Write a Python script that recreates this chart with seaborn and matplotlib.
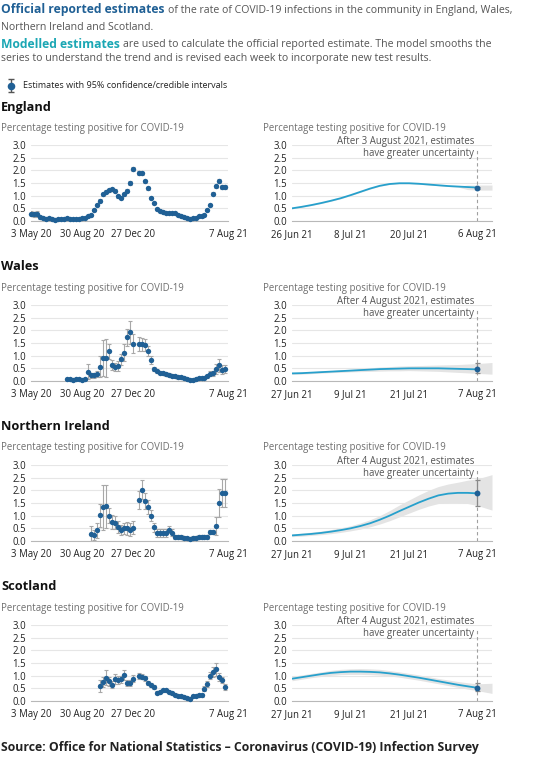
import matplotlib
matplotlib.use("Agg")
import matplotlib.pyplot as plt
import numpy as np
import pandas as pd
import seaborn as sns

sns.set_style("white")
plt.rcParams["font.family"] = ["Open Sans", "DejaVu Sans"]

W, H = 547, 760

DARK_BLUE = "#206095"
LINE_BLUE = "#27a0cc"
TEAL = "#1ba7b4"
ERR_GREY = "#a8a8a8"
BAND = "#e4e4e4"
GRID = "#e6e6e6"
AXIS = "#b8b8b8"
SUB_GREY = "#6f6f6f"
TEXT = "#222222"

nations = ["England", "Wales", "Northern Ireland", "Scotland"]

# --- official reported estimates (weekly) ---
survey_ticks = ["2020-05-03", "2020-08-30", "2020-12-27", "2021-08-07"]
survey_tick_labels = ["3 May 20", "30 Aug 20", "27 Dec 20", "7 Aug 21"]

england_start = "2020-05-03"
england_vals = [0.28, 0.27, 0.26, 0.14, 0.10, 0.09, 0.12, 0.08, 0.05, 0.06,
                0.08, 0.09, 0.10, 0.09, 0.08, 0.09, 0.09, 0.10, 0.12, 0.18,
                0.24, 0.43, 0.63, 0.80, 1.05, 1.15, 1.22, 1.25, 1.20, 0.97,
                0.90, 1.05, 1.20, 1.50, 2.07, np.nan, 1.90, 1.88, 1.57, 1.30,
                0.90, 0.70, 0.48, 0.40, 0.35, 0.33, 0.32, 0.30, 0.30, 0.25,
                0.20, 0.14, 0.10, 0.09, 0.10, 0.12, 0.18, 0.20, 0.24, 0.42,
                0.63, 1.08, 1.37, 1.57, 1.35, 1.35]
england_err = [0.10, 0.10, 0.12, 0.05, 0.03, 0.03, 0.03, 0.02, 0.02, 0.02,
               0.02, 0.02, 0.02, 0.02, 0.02, 0.02, 0.02, 0.02, 0.02, 0.03,
               0.03, 0.04, 0.05, 0.05, 0.06, 0.06, 0.06, 0.06, 0.06, 0.05,
               0.05, 0.05, 0.06, 0.07, 0.08, np.nan, 0.07, 0.07, 0.06, 0.06,
               0.05, 0.04, 0.03, 0.03, 0.03, 0.03, 0.03, 0.03, 0.03, 0.02,
               0.02, 0.02, 0.02, 0.02, 0.02, 0.02, 0.02, 0.02, 0.03, 0.04,
               0.05, 0.06, 0.07, 0.08, 0.08, 0.08]

wales_start = "2020-07-26"
wales_vals = [0.06, 0.06, 0.05, 0.06, 0.06, 0.05, 0.07, 0.37, 0.22, 0.22,
              0.27, 0.57, 0.90, 0.92, 1.18, 0.62, 0.55, 0.60, 0.85, 1.12,
              1.72, 1.93, 1.47, np.nan, 1.47, 1.45, 1.42, 1.18, 0.82, 0.48,
              0.38, 0.33, 0.30, 0.27, 0.25, 0.20, 0.18, 0.15, 0.15, 0.10,
              0.08, 0.05, 0.05, 0.06, 0.10, 0.12, 0.10, 0.18, 0.28, 0.30,
              0.48, 0.62, 0.45, 0.47]
wales_err = [0.03, 0.03, 0.03, 0.03, 0.03, 0.03, 0.03, 0.30, 0.10, 0.10,
             0.12, 0.40, 0.70, 0.75, 0.30, 0.20, 0.17, 0.20, 0.20, 0.35,
             0.35, 0.45, 0.38, np.nan, 0.28, 0.25, 0.25, 0.20, 0.15, 0.08,
             0.06, 0.06, 0.06, 0.06, 0.06, 0.06, 0.06, 0.06, 0.06, 0.04,
             0.04, 0.04, 0.04, 0.04, 0.04, 0.04, 0.04, 0.06, 0.10, 0.10,
             0.20, 0.25, 0.18, 0.17]

ni_start = "2020-09-20"
ni_vals = [0.28, 0.25, 0.42, 1.02, 1.33, 1.37, 1.00, 0.75, 0.72, 0.55,
           0.45, 0.50, 0.50, 0.45, 0.52, np.nan, 1.62, 2.02, 1.58, 1.35,
           1.00, 0.55, 0.32, 0.32, 0.32, 0.32, 0.45, 0.33, 0.15, 0.15,
           0.15, 0.12, 0.10, 0.08, 0.12, 0.13, 0.15, 0.16, 0.17, 0.15,
           0.35, 0.35, 0.60, 1.50, 1.88, 1.90]
ni_err = [0.30, 0.20, 0.30, 0.45, 0.90, 0.85, 0.30, 0.28, 0.25, 0.22,
          0.20, 0.22, 0.25, 0.25, 0.25, np.nan, 0.35, 0.38, 0.30, 0.28,
          0.22, 0.18, 0.15, 0.15, 0.15, 0.15, 0.15, 0.15, 0.07, 0.07,
          0.07, 0.07, 0.07, 0.07, 0.07, 0.07, 0.07, 0.07, 0.07, 0.07,
          0.07, 0.07, 0.35, 0.55, 0.55, 0.55]

scotland_start = "2020-10-11"
scotland_vals = [0.58, 0.75, 0.92, 0.78, 0.65, 0.88, 0.82, 0.85, 1.02, 0.72,
                 0.70, 0.88, np.nan, 1.00, 0.95, 0.90, 0.70, 0.63, 0.55, 0.33,
                 0.35, 0.42, 0.42, 0.35, 0.30, 0.25, 0.20, 0.18, 0.15, 0.12,
                 0.07, 0.20, 0.20, 0.22, 0.22, 0.48, 0.68, 1.00, 1.15, 1.25,
                 0.95, 0.82, 0.55]
scotland_err = [0.23, 0.20, 0.30, 0.18, 0.15, 0.20, 0.15, 0.15, 0.20, 0.12,
                0.12, 0.13, np.nan, 0.12, 0.10, 0.10, 0.08, 0.08, 0.07, 0.05,
                0.05, 0.05, 0.05, 0.05, 0.05, 0.05, 0.05, 0.05, 0.05, 0.05,
                0.05, 0.05, 0.05, 0.05, 0.05, 0.10, 0.12, 0.15, 0.20, 0.25,
                0.15, 0.12, 0.12]

# --- modelled estimates (days from start of model window) ---
model_days = [0, 2, 4, 6, 8, 10, 12, 14, 16, 18, 20, 22, 24, 26, 28, 30, 32, 34, 36, 38]
band_end_day = 41
model_tick_days = [0, 12, 24, 38]
england_model_labels = ["26 Jun 21", "8 Jul 21", "20 Jul 21", "6 Aug 21"]
other_model_labels = ["27 Jun 21", "9 Jul 21", "21 Jul 21", "7 Aug 21"]
england_note = "After 3 August 2021, estimates\nhave greater uncertainty"
other_note = "After 4 August 2021, estimates\nhave greater uncertainty"

england_model = [0.50, 0.56, 0.63, 0.71, 0.80, 0.90, 1.02, 1.15, 1.28, 1.39,
                 1.46, 1.49, 1.49, 1.47, 1.44, 1.41, 1.38, 1.36, 1.34, 1.32]
england_lo = [0.48, 0.54, 0.61, 0.69, 0.78, 0.88, 1.00, 1.13, 1.26, 1.37,
              1.44, 1.47, 1.47, 1.45, 1.42, 1.39, 1.36, 1.34, 1.24, 1.22, 1.22]
england_hi = [0.52, 0.58, 0.65, 0.73, 0.82, 0.92, 1.04, 1.17, 1.30, 1.41,
              1.48, 1.51, 1.51, 1.49, 1.46, 1.43, 1.40, 1.38, 1.42, 1.42, 1.42]

wales_model = [0.30, 0.31, 0.33, 0.35, 0.37, 0.39, 0.41, 0.43, 0.45, 0.47,
               0.48, 0.49, 0.50, 0.50, 0.50, 0.50, 0.49, 0.48, 0.47, 0.46]
wales_lo = [0.26, 0.27, 0.29, 0.31, 0.33, 0.34, 0.36, 0.37, 0.38, 0.39,
            0.40, 0.40, 0.41, 0.40, 0.39, 0.38, 0.36, 0.34, 0.32, 0.30, 0.27]
wales_hi = [0.34, 0.35, 0.37, 0.39, 0.41, 0.44, 0.46, 0.49, 0.52, 0.55,
            0.57, 0.59, 0.60, 0.61, 0.62, 0.63, 0.64, 0.65, 0.67, 0.69, 0.73]

ni_model = [0.22, 0.25, 0.28, 0.32, 0.37, 0.43, 0.50, 0.59, 0.70, 0.84,
            1.00, 1.18, 1.35, 1.52, 1.67, 1.80, 1.87, 1.90, 1.90, 1.88]
ni_lo = [0.17, 0.19, 0.22, 0.25, 0.29, 0.34, 0.40, 0.47, 0.56, 0.67,
         0.80, 0.95, 1.10, 1.25, 1.38, 1.48, 1.52, 1.52, 1.48, 1.40, 1.22]
ni_hi = [0.28, 0.31, 0.35, 0.39, 0.45, 0.52, 0.60, 0.71, 0.84, 1.00,
         1.20, 1.42, 1.62, 1.82, 2.00, 2.15, 2.25, 2.32, 2.40, 2.45, 2.62]

scotland_model = [0.88, 0.94, 1.00, 1.06, 1.11, 1.14, 1.16, 1.16, 1.15, 1.13,
                  1.09, 1.04, 0.98, 0.92, 0.85, 0.78, 0.71, 0.64, 0.58, 0.52]
scotland_lo = [0.80, 0.86, 0.92, 0.97, 1.01, 1.04, 1.05, 1.05, 1.04, 1.02,
               0.99, 0.94, 0.88, 0.82, 0.75, 0.68, 0.61, 0.54, 0.47, 0.41, 0.30]
scotland_hi = [0.97, 1.03, 1.09, 1.15, 1.21, 1.25, 1.27, 1.28, 1.27, 1.25,
               1.20, 1.15, 1.09, 1.03, 0.96, 0.89, 0.83, 0.77, 0.72, 0.68, 0.70]

# latest official estimate with interval (shown on the modelled panel)
latest_val = [1.31, 0.46, 1.88, 0.52]
latest_lo = [1.27, 0.30, 1.40, 0.38]
latest_hi = [1.36, 0.72, 2.42, 0.72]

survey = [
    (england_start, england_vals, england_err),
    (wales_start, wales_vals, wales_err),
    (ni_start, ni_vals, ni_err),
    (scotland_start, scotland_vals, scotland_err),
]
model = [
    (england_model, england_lo, england_hi, england_model_labels, england_note),
    (wales_model, wales_lo, wales_hi, other_model_labels, other_note),
    (ni_model, ni_lo, ni_hi, other_model_labels, other_note),
    (scotland_model, scotland_lo, scotland_hi, other_model_labels, other_note),
]

fig = plt.figure(figsize=(W / 100, H / 100), dpi=100)


def fx(px):
    return px / W


def fy(py):
    return 1 - py / H


def text_runs(y_px, runs):
    renderer = fig.canvas.get_renderer()
    x = 1
    for s, color, weight, size in runs:
        t = fig.text(fx(x), fy(y_px), s, color=color, fontweight=weight,
                     fontsize=size, va="center", ha="left")
        x += t.get_window_extent(renderer).width + 3.5


def style_axis(ax):
    ax.set_ylim(0, 3)
    ax.set_yticks([0, 0.5, 1, 1.5, 2, 2.5, 3])
    ax.set_yticklabels(["0.0", "0.5", "1.0", "1.5", "2.0", "2.5", "3.0"])
    ax.yaxis.grid(True, color=GRID, lw=0.8)
    ax.xaxis.grid(False)
    ax.set_axisbelow(True)
    for s in ["top", "right", "left"]:
        ax.spines[s].set_visible(False)
    ax.spines["bottom"].set_color(AXIS)
    ax.spines["bottom"].set_linewidth(0.8)
    ax.tick_params(axis="y", length=2.5, width=0.7, color=AXIS, labelsize=6.9,
                   labelcolor=TEXT, pad=1)
    ax.tick_params(axis="x", length=3.5, width=0.7, color=AXIS, labelsize=6.9,
                   labelcolor=TEXT, pad=2)
    ax.set_xlabel("")
    ax.set_ylabel("")


def plot_survey(ax, start, vals, errs):
    df = pd.DataFrame({"date": pd.date_range(start, periods=len(vals), freq="7D"),
                       "value": vals, "err": errs}).dropna()
    ax.errorbar(df["date"], df["value"], yerr=df["err"], fmt="none",
                ecolor=ERR_GREY, elinewidth=0.8, capsize=1.6, capthick=0.8, zorder=2)
    sns.scatterplot(data=df, x="date", y="value", ax=ax, color=DARK_BLUE, s=15,
                    linewidth=0, zorder=3, clip_on=False)
    ticks = pd.to_datetime(survey_ticks)
    ax.set_xlim(ticks[0], ticks[-1])
    ax.set_xticks(ticks)
    ax.set_xticklabels(survey_tick_labels)
    style_axis(ax)


def plot_model(ax, i, vals, lo, hi, labels, note):
    ax.fill_between(model_days + [band_end_day], lo, hi, color=BAND, lw=0, zorder=1)
    sns.lineplot(x=model_days, y=vals, ax=ax, color=LINE_BLUE, lw=1.3, zorder=2)
    last = model_days[-1]
    ax.axvline(last, ymin=0, ymax=0.96, color="#a0a0a0", lw=0.8, ls=(0, (3, 2.5)), zorder=1)
    ax.errorbar([last], [latest_val[i]],
                yerr=[[latest_val[i] - latest_lo[i]], [latest_hi[i] - latest_val[i]]],
                fmt="none", ecolor="#8a8a8a", elinewidth=0.9, capsize=1.8, capthick=0.9, zorder=3)
    sns.scatterplot(x=[last], y=[latest_val[i]], ax=ax, color=DARK_BLUE, s=18,
                    linewidth=0, zorder=4)
    ax.text(last - 0.7, 2.9, note, ha="right", va="center", fontsize=6.9,
            color="#555555", linespacing=1.15)
    ax.set_xlim(0, band_end_day)
    ax.set_xticks(model_tick_days)
    ax.set_xticklabels(labels)
    style_axis(ax)


subtitle = "Percentage testing positive for COVID-19"
for i, name in enumerate(nations):
    top = 145 + 160 * i
    bottom = top + 76
    fig.text(fx(1), fy(top - 38), name, fontsize=9.2, fontweight="bold",
             color="#111111", va="center")
    fig.text(fx(1), fy(top - 17), subtitle, fontsize=6.9, color=SUB_GREY, va="center")
    fig.text(fx(263), fy(top - 17), subtitle, fontsize=6.9, color=SUB_GREY, va="center")

    ax_l = fig.add_axes([fx(31), fy(bottom), fx(228) - fx(31), (bottom - top) / H])
    plot_survey(ax_l, *survey[i])
    ax_r = fig.add_axes([fx(292), fy(bottom), fx(492) - fx(292), (bottom - top) / H])
    plot_model(ax_r, i, *model[i])

# header text
text_runs(10, [("Official reported estimates", DARK_BLUE, "bold", 8.7),
               ("of the rate of COVID-19 infections in the community in England, Wales,",
                "#555555", "normal", 7.6)])
text_runs(27, [("Northern Ireland and Scotland.", "#555555", "normal", 7.6)])
text_runs(44, [("Modelled estimates", TEAL, "bold", 8.7),
               ("are used to calculate the official reported estimate. The model smooths the",
                "#555555", "normal", 7.6)])
text_runs(59, [("series to understand the trend and is revised each week to incorporate new test results.",
                "#555555", "normal", 7.6)])

# legend icon
ax_icon = fig.add_axes([fx(5), fy(93), fx(11), 15 / H])
ax_icon.errorbar([0], [0], yerr=[[1], [1]], fmt="none", ecolor="#555555",
                 elinewidth=1, capsize=2.2, capthick=1)
ax_icon.scatter([0], [0], s=30, color=DARK_BLUE, zorder=3, linewidth=0)
ax_icon.set_xlim(-1, 1)
ax_icon.set_ylim(-1.1, 1.1)
ax_icon.axis("off")
fig.text(fx(23), fy(85), "Estimates with 95% confidence/credible intervals",
         fontsize=6.5, color="#222222", va="center")

fig.text(fx(1), fy(747), "Source: Office for National Statistics \u2013 Coronavirus (COVID-19) Infection Survey",
         fontsize=8.8, fontweight="bold", color="#222222", va="center")

fig.savefig("out.png", dpi=100)
